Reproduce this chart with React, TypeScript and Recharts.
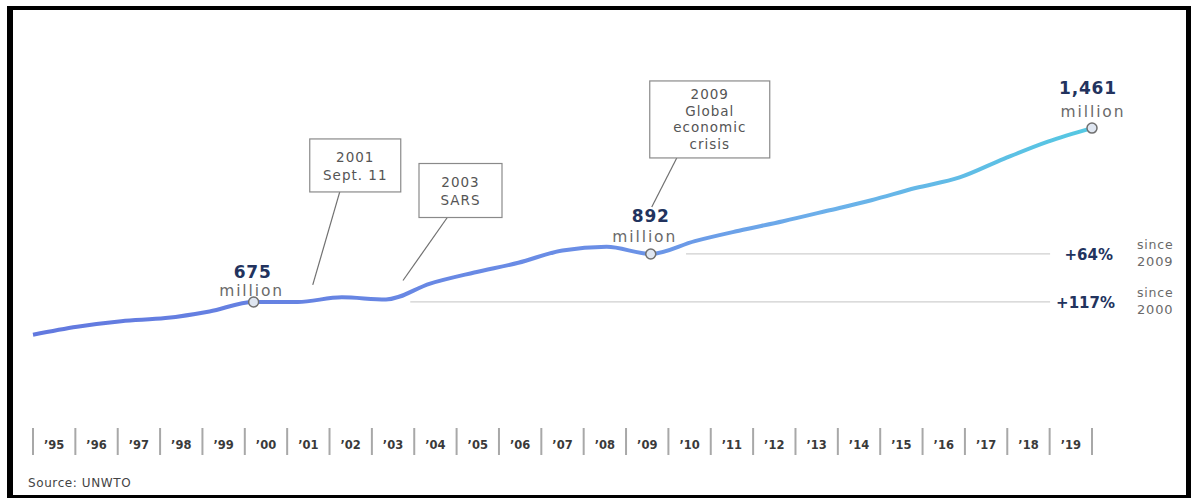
import { LineChart, Line, XAxis, YAxis, ReferenceDot, ReferenceLine } from 'recharts';

const years = [1995, 1996, 1997, 1998, 1999, 2000, 2001, 2002, 2003, 2004, 2005, 2006, 2007, 2008, 2009, 2010, 2011, 2012, 2013, 2014, 2015, 2016, 2017, 2018, 2019];
const arrivals = [527, 563, 588, 602, 632, 675, 675, 696, 686, 758, 808, 852, 908, 924, 892, 950, 997, 1040, 1087, 1135, 1190, 1238, 1322, 1400, 1461];
const yearLabels = ['’95', '’96', '’97', '’98', '’99', '’00', '’01', '’02', '’03', '’04', '’05', '’06', '’07', '’08', '’09', '’10', '’11', '’12', '’13', '’14', '’15', '’16', '’17', '’18', '’19'];
// the printed year strip is 25 equal boxes spanning the same width as the line
const slotTicks = [0, 0.5, 1, 1.5, 2, 2.5, 3, 3.5, 4, 4.5, 5, 5.5, 6, 6.5, 7, 7.5, 8, 8.5, 9, 9.5, 10, 10.5, 11, 11.5, 12, 12.5, 13, 13.5, 14, 14.5, 15, 15.5, 16, 16.5, 17, 17.5, 18, 18.5, 19, 19.5, 20, 20.5, 21, 21.5, 22, 22.5, 23, 23.5, 24, 24.5, 25];

const highlights = [
  { year: 2000, value: '675' },
  { year: 2009, value: '892' },
  { year: 2019, value: '1,461' },
];
const events = [
  { year: 2001, lines: ['2001', 'Sept. 11'] },
  { year: 2003, lines: ['2003', 'SARS'] },
  { year: 2009, lines: ['2009', 'Global', 'economic', 'crisis'] },
];
const growth = [
  { base: 2009, pct: '+64%' },
  { base: 2000, pct: '+117%' },
];

const data = years.map((year, i) => ({ year, arrivals: arrivals[i] }));
const valueOf = (y: number) => arrivals[years.indexOf(y)];

const NAVY = '#22335e';
const GREY = '#6a6a6a';
const FONT = '"DejaVu Sans", sans-serif';

function SlotTick(props: any) {
  const { x, y, payload } = props;
  const v = payload.value;
  if (Number.isInteger(v)) {
    return <line x1={x} x2={x} y1={y - 9} y2={y + 18} stroke="#a8a8a8" strokeWidth={2} />;
  }
  return (
    <text x={x} y={y + 12} textAnchor="middle" fontFamily={FONT} fontSize={11.5} fontWeight={700} fill="#3a3a3a">
      {yearLabels[Math.floor(v)]}
    </text>
  );
}

function Highlight(props: any) {
  const { cx, cy, value, nx, ny, mx, my } = props;
  return (
    <g>
      <text x={cx + nx} y={cy + ny} textAnchor="middle" fontFamily={FONT} fontSize={17} fontWeight={700} fill={NAVY} letterSpacing={0.8}>
        {value}
      </text>
      <text x={cx + mx} y={cy + my} textAnchor="middle" fontFamily={FONT} fontSize={15.5} fill={GREY} letterSpacing={1.9}>
        million
      </text>
      <circle cx={cx} cy={cy} r={5} fill="#dfe6f1" stroke="#6f6f6f" strokeWidth={1.5} />
    </g>
  );
}

function Callout(props: any) {
  const { cx, cy, lines, bx, by, bw, bh, fx, fy, tx, ty, first, gap } = props;
  const left = cx + bx;
  const top = cy + by;
  return (
    <g>
      <line x1={cx + fx} y1={cy + fy} x2={cx + tx} y2={cy + ty} stroke="#707070" strokeWidth={1.2} />
      <rect x={left} y={top} width={bw} height={bh} fill="#ffffff" stroke="#8a8a8a" strokeWidth={1.2} />
      {lines.map((l: string, i: number) => (
        <text key={l} x={left + bw / 2} y={top + first + i * gap} textAnchor="middle" fontFamily={FONT} fontSize={13.5} fill="#555" letterSpacing={1}>
          {l}
        </text>
      ))}
    </g>
  );
}

function Growth(props: any) {
  const { cx, cy, pct, base, dx } = props;
  return (
    <g>
      <text x={cx + dx} y={cy + 6} textAnchor="end" fontFamily={FONT} fontSize={15} fontWeight={700} fill={NAVY}>
        {pct}
      </text>
      <text x={cx + 45} y={cy - 5} fontFamily={FONT} fontSize={12.5} fill={GREY} letterSpacing={0.8}>since</text>
      <text x={cx + 45} y={cy + 12} fontFamily={FONT} fontSize={13} fill={GREY} letterSpacing={0.8}>{base}</text>
    </g>
  );
}

const calloutGeom: Record<number, any> = {
  2001: { bx: 12, by: -163, bw: 91, bh: 53, fx: 42, fy: -110, tx: 15, ty: -17, first: 23, gap: 18 },
  2003: { bx: 33, by: -136, bw: 83, bh: 54, fx: 62, fy: -83, tx: 17, ty: -19, first: 23, gap: 18 },
  2009: { bx: -1, by: -173, bw: 120, bh: 77, fx: 26, fy: -96, tx: 1, ty: -47, first: 18, gap: 16.7 },
};
const highlightGeom: Record<number, any> = {
  2000: { nx: -1, ny: -24, mx: -2, my: -6 },
  2009: { nx: 0, ny: -32, mx: -6, my: -12 },
  2019: { nx: -4, ny: -34, mx: 1, my: -11 },
};

export default function App() {
  return (
    <div style={{ position: 'absolute', left: 0, top: 0, width: 1193, height: 499, background: '#fff' }}>
      <div
        style={{
          position: 'absolute', left: 7, top: 6, width: 1184, height: 492, boxSizing: 'border-box',
          borderStyle: 'solid', borderColor: '#000', borderWidth: '4px 5px 3px 6px',
        }}
      />
      <div style={{ position: 'absolute', left: 0, top: 0 }}>
        <LineChart width={1193} height={499} data={data} margin={{ top: 31, right: 101, bottom: 0, left: 33 }}>
          <defs>
            <linearGradient id="lineGrad" x1="0" y1="0" x2="1" y2="0">
              <stop offset="0%" stopColor="#6279df" />
              <stop offset="55%" stopColor="#6b8fe6" />
              <stop offset="75%" stopColor="#6cb0ea" />
              <stop offset="100%" stopColor="#55c8e2" />
            </linearGradient>
          </defs>
          <XAxis dataKey="year" type="number" domain={[1995, 2019]} hide />
          <XAxis
            xAxisId="slots"
            dataKey="year"
            type="number"
            domain={[1995, 2020]}
            allowDataOverflow
            ticks={slotTicks.map((t) => 1995 + t)}
            tickFormatter={() => ''}
            interval={0}
            height={92}
            axisLine={false}
            tickLine={false}
            tickSize={0}
            tickMargin={0}
            tick={(p: any) => <SlotTick {...p} payload={{ value: p.payload.value - 1995 }} />}
          />
          <YAxis hide domain={[200, 1900]} />
          {growth.map((g) => (
            <ReferenceLine
              key={g.base}
              segment={[{ x: g.base === 2009 ? 2009.8 : 2003.55, y: valueOf(g.base) }, { x: 2018.05, y: valueOf(g.base) }]}
              stroke="#cfcfcf"
              strokeWidth={1.2}
            />
          ))}
          <Line
            type="monotone"
            dataKey="arrivals"
            stroke="url(#lineGrad)"
            strokeWidth={4}
            dot={false}
            isAnimationActive={false}
          />
          {events.map((e) => (
            <ReferenceDot
              key={e.year}
              x={e.year}
              y={valueOf(e.year)}
              r={0}
              shape={(p: any) => <Callout cx={p.cx} cy={p.cy} lines={e.lines} {...calloutGeom[e.year]} />}
            />
          ))}
          {highlights.map((h) => (
            <ReferenceDot
              key={h.year}
              x={h.year}
              y={valueOf(h.year)}
              r={5}
              shape={(p: any) => <Highlight cx={p.cx} cy={p.cy} value={h.value} {...highlightGeom[h.year]} />}
            />
          ))}
          {growth.map((g) => (
            <ReferenceDot
              key={g.pct}
              x={2019}
              y={valueOf(g.base)}
              r={0}
              shape={(p: any) => <Growth cx={p.cx} cy={p.cy} pct={g.pct} base={g.base} dx={g.base === 2009 ? 21 : 23} />}
            />
          ))}
        </LineChart>
      </div>
      <div
        style={{
          position: 'absolute', left: 28, top: 476, fontFamily: FONT, fontSize: 12,
          color: '#444', letterSpacing: 0.6,
        }}
      >
        Source: UNWTO
      </div>
    </div>
  );
}
